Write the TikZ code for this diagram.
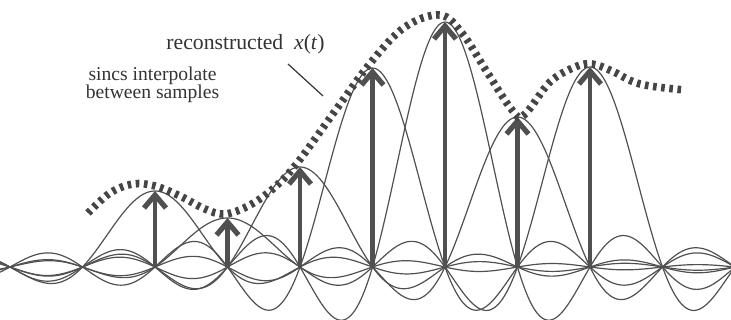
\documentclass[tikz,border=0pt]{standalone}
\usepackage{fontspec}
\setmainfont{Liberation Serif}
\usetikzlibrary{arrows.meta}
\definecolor{ink}{HTML}{505050}
\definecolor{dashink}{HTML}{454545}
\begin{document}
\begin{tikzpicture}[x=0.5pt,y=-0.5pt,
  sincline/.style={draw=ink,line width=0.6pt,smooth},
  sample/.style={draw=ink,line width=2.2pt,-{Straight Barb[length=6.5pt,width=11pt,line width=2.6pt]}},
  recon/.style={draw=dashink,line width=3.8pt,dash pattern=on 1.8pt off 2.3pt},
  lbl/.style={inner sep=0pt,text=black!80},
  leader/.style={draw=black!80,line width=0.6pt},
  declare function={sku(\u)=sin(\u*180)/(pi*\u);
    sk(\t,\c,\a)=267-\a*sku((\t-\c)/72.5);}]
\useasboundingbox (0,0) rectangle (731,320);
\begin{scope}
\clip (0,0) rectangle (731,320);
% sinc functions
\foreach \c/\a in {155/76,227.5/49,300/100,372.5/199,445/245,517.5/150,590/200}{
  \draw[sincline] plot[domain=-1.3:732.7,samples=368] (\x,{sk(\x,\c,\a)});
}
\end{scope}
% sample arrows
\foreach \i/\c/\a in {1/155/76,2/227.5/49,3/300/100,4/372.5/199,5/445/245,6/517.5/150,7/590/200}{
  \coordinate (b\i) at (\c,267);
  \coordinate (t\i) at (\c,{267-\a});
  \draw[sample] (b\i) -- (t\i);
}
% reconstructed x(t)
\draw[recon] plot[smooth,tension=0.6] coordinates {(88,213) (110,193) (133,184) (155,186) (180,196) (205,209) (225,214) (250,205) (275,187) (298,162) (335,111) (372,61) (405,27) (440,15) (462,33) (487,72) (512,110) (524,115) (550,82) (575,67) (592,64) (612,71) (640,84) (685,90)};
% labels
\node[lbl,font=\fontsize{10.85}{12}\selectfont,anchor=base west] (rec) at (166,50) {reconstructed\ \ \textit{x}(\textit{t})};
\node[lbl,font=\fontsize{9.8}{9}\selectfont,align=center,anchor=base] (sinc) at (152.5,99) {sincs interpolate\\between samples};
\coordinate (l1) at (288,64);
\coordinate (l2) at (323,96);
\draw[leader] (l1) -- (l2);
\end{tikzpicture}
\end{document}
